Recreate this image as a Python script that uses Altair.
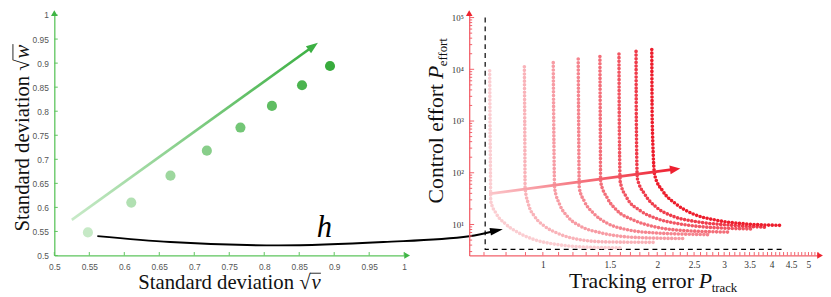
import altair as alt
import pandas as pd

W1, W2, H = 355, 354, 244
SERIF = "Liberation Serif"
SANS = "Liberation Sans"
GREEN_AX = "#5cc45c"
GREEN_HEAD = "#3fb545"
RED_AX = "#f2606a"
RED_HEAD = "#ee2530"
ARROW = "M0,-1L0.75,1L-0.75,1Z"

# ---------------- left panel data ----------------
sd_v = [0.548, 0.610, 0.666, 0.718, 0.766, 0.811, 0.854, 0.894]
sd_w = [0.548, 0.610, 0.666, 0.718, 0.766, 0.811, 0.854, 0.894]
point_id = ["p1", "p2", "p3", "p4", "p5", "p6", "p7", "p8"]
point_colors = ["#c6e9c6", "#b1e0b2", "#9dd79e", "#88ce8a",
                "#73c676", "#5fbd62", "#4bb44f", "#38ab3d"]
left_ticks = [0.5, 0.55, 0.6, 0.65, 0.7, 0.75, 0.8, 0.85, 0.9, 0.95, 1.0]
green_arrow_x = [0.525, 0.870]
green_arrow_y = [0.574, 0.935]
h_arrow_x = [0.5615, 0.6658, 0.8207, 0.9704, 1.093, 1.132]
h_arrow_y = [0.5404, 0.528, 0.521, 0.528, 0.540, 0.552]
h_label_x = [0.886]
h_label_y = [0.539]

# ---------------- right panel data ----------------
curve_names = ["c1", "c2", "c3", "c4", "c5", "c6", "c7", "c8"]
curve_colors = ["#fbcdd1", "#f9b3b9", "#f79ca4", "#f5858f",
                "#f36e79", "#f15663", "#ef3c4b", "#ed1d2c"]
c1_x = [0.7245, 0.726, 0.728, 0.729, 0.754, 0.797, 0.863, 0.953, 1.095, 1.31, 1.598]
c1_y = [9330, 1000, 100, 28.7, 16.2, 10.3, 6.92, 5.06, 4.09, 3.65, 3.55]
c2_x = [0.894, 0.896, 0.898, 0.916, 0.953, 1.012, 1.095, 1.259, 1.476, 1.989]
c2_y = [11200, 1000, 50.6, 24.9, 14.1, 9.2, 6.73, 5.06, 4.6, 4.52]
c3_x = [1.065, 1.068, 1.074, 1.106, 1.163, 1.259, 1.419, 1.631, 1.989, 2.37]
c3_y = [13460, 1000, 50.6, 24.9, 14.1, 9.2, 6.92, 5.84, 5.45, 5.36]
c4_x = [1.239, 1.242, 1.247, 1.284, 1.363, 1.476, 1.663, 1.95, 2.762]
c4_y = [15800, 1000, 50.6, 28.7, 16.2, 10.6, 7.97, 6.92, 6.36]
c5_x = [1.413, 1.416, 1.419, 1.476, 1.567, 1.731, 1.95, 2.286, 3.112]
c5_y = [17700, 1000, 67.3, 33.0, 18.7, 12.2, 9.2, 7.75, 7.12]
c6_x = [1.586, 1.589, 1.598, 1.663, 1.801, 1.989, 2.286, 2.681, 3.541]
c6_y = [19800, 1000, 67.3, 33.0, 18.7, 13.1, 10.3, 8.94, 8.21]
c7_x = [1.759, 1.762, 1.773, 1.856, 1.989, 2.197, 2.526, 3.021, 3.912]
c7_y = [22200, 1000, 77.5, 38.1, 21.6, 14.5, 11.4, 9.87, 8.81]
c8_x = [1.935, 1.94, 1.97, 2.07, 2.241, 2.476, 2.846, 3.403, 4.278]
c8_y = [24200, 1000, 89.4, 43.9, 24.9, 16.2, 12.2, 10.3, 9.6]
red_arrow_x = [0.722, 2.229]
red_arrow_y = [39.2, 117.8]
bound_x = [0.705, 0.705, 4.32]
bound_y = [100000, 3.3, 3.3]
track_ticks = [1, 1.5, 2, 2.5, 3, 3.5, 4, 4.5, 5]
track_minor = [round(0.7 + 0.1 * i, 1) for i in range(47)]
effort_ticks = [10, 100, 1000, 10000, 100000]
effort_minor = [m * 10 ** k for k in range(0, 5) for m in range(2, 10) if 2.52 <= m * 10 ** k]

one = pd.DataFrame({"a": [0]})

# ---------------- left panel ----------------
lscale = alt.Scale(domain=[0.5, 1], nice=False, zero=False)
lax_common = dict(values=left_ticks, format="~g", title=None, grid=False, ticks=False,
                  domainColor=GREEN_AX, domainWidth=1.3, labelFont=SANS, labelFontSize=8.5,
                  labelColor="#555555", labelFlush=False, labelOverlap=False, labelBound=False)
LX = alt.X("x:Q", scale=lscale, axis=alt.Axis(labelPadding=7, **lax_common))
LY = alt.Y("y:Q", scale=lscale, axis=alt.Axis(labelPadding=6, **lax_common))

pts = alt.Chart(pd.DataFrame({"x": sd_v, "y": sd_w, "pc": point_id})).mark_circle(
    size=105, opacity=1).encode(
    x=LX, y=LY,
    color=alt.Color("pc:N", scale=alt.Scale(domain=point_id, range=point_colors), legend=None))

garrow = alt.Chart(pd.DataFrame({"x": green_arrow_x, "y": green_arrow_y})).mark_line(
    strokeWidth=2.6,
    color=alt.Gradient(gradient="linear",
                       stops=[alt.GradientStop(color="#c8eac8", offset=0),
                              alt.GradientStop(color="#3cb043", offset=1)],
                       x1=0, x2=1, y1=1, y2=0)).encode(x=LX, y=LY)
ghead = alt.Chart(pd.DataFrame({"x": green_arrow_x[1:], "y": green_arrow_y[1:]})).mark_point(
    shape=ARROW, filled=True, size=140, angle=54, color="#3cb043", opacity=1).encode(x=LX, y=LY)

hline = alt.Chart(pd.DataFrame({"x": h_arrow_x, "y": h_arrow_y})).mark_line(
    color="black", strokeWidth=1.9, interpolate="monotone").encode(x=LX, y=LY)
hhead = alt.Chart(pd.DataFrame({"x": h_arrow_x[-1:], "y": h_arrow_y[-1:]})).mark_point(
    shape="M0,-1L0.6,1L-0.6,1Z", filled=True, size=170, angle=79, color="black", opacity=1).encode(x=LX, y=LY)
htext = alt.Chart(pd.DataFrame({"x": h_label_x, "y": h_label_y})).mark_text(
    text="h", font=SERIF, fontStyle="italic", fontSize=31, align="center",
    baseline="alphabetic", color="black").encode(x=LX, y=LY)

lxt = alt.Chart(pd.DataFrame({"x": left_ticks})).mark_rule(color=GREEN_AX, strokeWidth=1).encode(
    x=LX, y=alt.value(H), y2=alt.value(H - 3.5))
lyt = alt.Chart(pd.DataFrame({"y": left_ticks})).mark_rule(color=GREEN_AX, strokeWidth=1).encode(
    y=LY, x=alt.value(0), x2=alt.value(3.5))
lxa = alt.Chart(one).mark_point(shape="triangle-up", filled=True, size=45, angle=90,
                                color=GREEN_HEAD, opacity=1).encode(x=alt.value(W1 + 3), y=alt.value(H))
lya = alt.Chart(one).mark_point(shape="triangle-up", filled=True, size=45, angle=0,
                                color=GREEN_HEAD, opacity=1).encode(x=alt.value(0), y=alt.value(-2))

TS = 21
tx1 = alt.Chart(one).mark_text(text="Standard deviation √", font=SERIF, fontSize=TS, align="right",
                               baseline="alphabetic", color="#111").encode(x=alt.value(260), y=alt.value(H + 34))
tx2 = alt.Chart(one).mark_text(text="v", font=SERIF, fontStyle="italic", fontSize=TS, align="left",
                               baseline="alphabetic", color="#111").encode(x=alt.value(261), y=alt.value(H + 34))
tx3 = alt.Chart(one).mark_rule(color="#111", strokeWidth=0.9).encode(
    x=alt.value(259.5), x2=alt.value(270.5), y=alt.value(H + 34 - 16))
ty1 = alt.Chart(one).mark_text(text="Standard deviation √", font=SERIF, fontSize=TS, align="right", angle=270,
                               baseline="alphabetic", color="#111").encode(x=alt.value(-26), y=alt.value(45))
ty2 = alt.Chart(one).mark_text(text="w", font=SERIF, fontStyle="italic", fontSize=TS, align="left", angle=270,
                               baseline="alphabetic", color="#111").encode(x=alt.value(-26), y=alt.value(44))
ty3 = alt.Chart(one).mark_rule(color="#111", strokeWidth=0.9).encode(
    y=alt.value(45.5), y2=alt.value(29.5), x=alt.value(-26 - 16))

left = alt.layer(hline, hhead, garrow, ghead, pts, htext, lxt, lyt, lxa, lya,
                 tx1, tx2, tx3, ty1, ty2, ty3).properties(width=W1, height=H)

# ---------------- right panel ----------------
rows = []
for name, xs, ys in zip(curve_names, [c1_x, c2_x, c3_x, c4_x, c5_x, c6_x, c7_x, c8_x],
                        [c1_y, c2_y, c3_y, c4_y, c5_y, c6_y, c7_y, c8_y]):
    for i, (a, b) in enumerate(zip(xs, ys)):
        rows.append({"x": a, "y": b, "rc": name, "o": i})
curves_df = pd.DataFrame(rows)

rxs = alt.Scale(type="log", domain=[0.64, 5.3], nice=False)
rys = alt.Scale(type="log", domain=[2.52, 112000], nice=False)
rax_common = dict(title=None, grid=False, ticks=False, domainColor=RED_AX, domainWidth=1.3,
                  labelFont=SERIF, labelColor="#333333", labelFlush=False, labelOverlap=False,
                  labelBound=False)
RX = alt.X("x:Q", scale=rxs, axis=alt.Axis(values=track_ticks, format="~g", labelFontSize=9.5,
                                            labelPadding=4, **rax_common))
RY = alt.Y("y:Q", scale=rys, axis=alt.Axis(
    values=effort_ticks, labelFontSize=9, labelPadding=6,
    labelExpr="datum.value == 10 ? '10¹' : datum.value == 100 ? '10²' : datum.value == 1000 ? '10³' : datum.value == 10000 ? '10⁴' : '10⁵'",
    **rax_common))

curves = alt.Chart(curves_df).mark_line(
    strokeDash=[0, 3.7], strokeCap="round", strokeWidth=3.7, interpolate="monotone", opacity=1).encode(
    x=RX, y=RY, order="o:Q",
    color=alt.Color("rc:N", scale=alt.Scale(domain=curve_names, range=curve_colors), legend=None))

bound = alt.Chart(pd.DataFrame({"x": bound_x, "y": bound_y, "o": [0, 1, 2]})).mark_line(
    color="black", strokeWidth=1.2, strokeDash=[5, 4]).encode(x=RX, y=RY, order="o:Q")

rarrow = alt.Chart(pd.DataFrame({"x": red_arrow_x, "y": red_arrow_y})).mark_line(
    strokeWidth=2.8,
    color=alt.Gradient(gradient="linear",
                       stops=[alt.GradientStop(color="#fbc6ca", offset=0),
                              alt.GradientStop(color="#ee2030", offset=1)],
                       x1=0, x2=1, y1=1, y2=0)).encode(x=RX, y=RY)
rhead = alt.Chart(pd.DataFrame({"x": red_arrow_x[1:], "y": red_arrow_y[1:]})).mark_point(
    shape="M0,-1L0.85,1L-0.85,1Z", filled=True, size=110, angle=82, color="#ee2030", opacity=1).encode(x=RX, y=RY)

rxt = alt.Chart(pd.DataFrame({"x": track_minor})).mark_rule(color=RED_AX, strokeWidth=1).encode(
    x=RX, y=alt.value(H), y2=alt.value(H - 3.5))
ryt = alt.Chart(pd.DataFrame({"y": effort_ticks})).mark_rule(color=RED_AX, strokeWidth=1).encode(
    y=RY, x=alt.value(0), x2=alt.value(5))
rym = alt.Chart(pd.DataFrame({"y": effort_minor})).mark_rule(color=RED_AX, strokeWidth=1).encode(
    y=RY, x=alt.value(0), x2=alt.value(3))
rxa = alt.Chart(one).mark_point(shape="triangle-up", filled=True, size=45, angle=90,
                                color=RED_HEAD, opacity=1).encode(x=alt.value(W2 + 2), y=alt.value(H))
rya = alt.Chart(one).mark_point(shape="triangle-up", filled=True, size=45, angle=0,
                                color=RED_HEAD, opacity=1).encode(x=alt.value(0), y=alt.value(-2))

rt1 = alt.Chart(one).mark_text(text="Tracking error", font=SERIF, fontSize=22, align="right",
                               baseline="alphabetic", color="#111").encode(x=alt.value(228), y=alt.value(H + 33))
rt2 = alt.Chart(one).mark_text(text="P", font=SERIF, fontStyle="italic", fontSize=22, align="left",
                               baseline="alphabetic", color="#111").encode(x=alt.value(233), y=alt.value(H + 33))
rt3 = alt.Chart(one).mark_text(text="track", font=SERIF, fontSize=13, align="left",
                               baseline="alphabetic", color="#111").encode(x=alt.value(246), y=alt.value(H + 37))
ru1 = alt.Chart(one).mark_text(text="Control effort", font=SERIF, fontSize=22, align="right", angle=270,
                               baseline="alphabetic", color="#111").encode(x=alt.value(-27), y=alt.value(70))
ru2 = alt.Chart(one).mark_text(text="P", font=SERIF, fontStyle="italic", fontSize=22, align="left", angle=270,
                               baseline="alphabetic", color="#111").encode(x=alt.value(-27), y=alt.value(65))
ru3 = alt.Chart(one).mark_text(text="effort", font=SERIF, fontSize=13, align="left", angle=270,
                               baseline="alphabetic", color="#111").encode(x=alt.value(-23), y=alt.value(52))

right = alt.layer(bound, curves, rarrow, rhead, rxt, ryt, rym, rxa, rya,
                  rt1, rt2, rt3, ru1, ru2, ru3).properties(width=W2, height=H)

chart = alt.HConcatChart(hconcat=[left, right], spacing=66, bounds="flush").resolve_scale(
    color="independent").properties(
    padding={"left": 4, "top": 0, "right": 0, "bottom": 0}).configure_view(stroke=None)

chart.save("out.html", embed_options={"renderer": "svg", "actions": False})
